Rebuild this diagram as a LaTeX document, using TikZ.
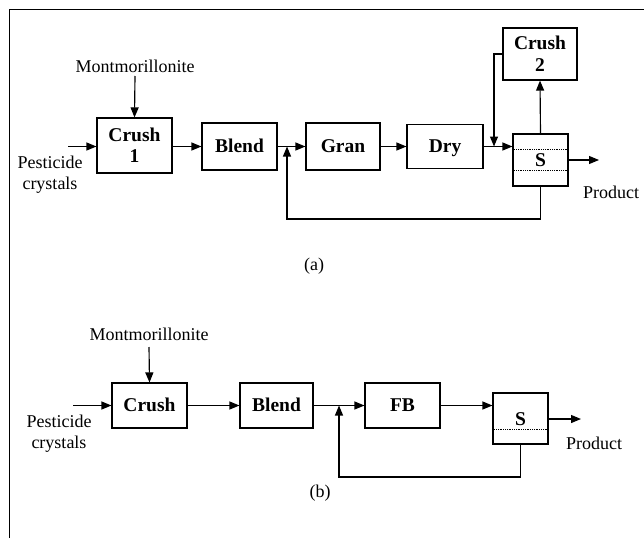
\documentclass[tikz,border=0pt]{standalone}
\usepackage{fontspec}
\setmainfont{Liberation Serif}
\usetikzlibrary{arrows.meta,calc}
\tikzset{
  unit/.style={draw, line width=1.15pt, inner sep=0pt, align=center,
    font=\bfseries\fontsize{19.5}{21}\selectfont},
  one/.style={text height=12.5pt, text depth=0pt},
  lbl/.style={inner sep=0pt, align=center, font=\fontsize{18}{21}\selectfont},
  arr/.style={line width=1.15pt, -{Triangle[length=10pt,width=8pt]}},
  ln/.style={line width=1.15pt},
  dotl/.style={line width=0.8pt, densely dotted},
}
\begin{document}
\begin{tikzpicture}[x=1pt,y=-1pt]
\useasboundingbox (0,0) rectangle (644,538);
% frame
\draw[line width=1pt] (9,538) -- (9,9) -- (644,9);

% ---------- (a) ----------
\node[unit, minimum width=75pt, minimum height=55pt] (crA) at (134.5,145.5) {Crush\\1};
\node[unit, one, minimum width=75pt, minimum height=47pt] (blA) at (239.5,146.5) {Blend};
\node[unit, one, minimum width=74pt, minimum height=47pt] (grA) at (343,146.5) {Gran};
\node[unit, one, minimum width=76pt, minimum height=44pt] (drA) at (445,146.5) {Dry};
\node[unit, one, minimum width=55pt, minimum height=52pt] (sA) at (540.5,160) {S};
\node[unit, minimum width=74pt, minimum height=52pt, font=\bfseries\fontsize{19.5}{22}\selectfont] (c2A) at (540,54) {Crush\\2};
\draw[dotl] ([yshift=-16pt]sA.north west) -- ([yshift=-16pt]sA.north east);
\draw[dotl] ([yshift=16pt]sA.south west) -- ([yshift=16pt]sA.south east);

\node[lbl] (moA) at (135,66) {Montmorillonite};
\node[lbl] (peA) at (50,175) {Pesticide\\crystals};
\node[lbl] (prA) at (611,192) {Product};
\node[lbl] (capA) at (314,266) {(a)};

\coordinate (inA) at (68,146.5);
\coordinate (jA1) at (287,146.5);
\coordinate (lpA) at (287,219);
\coordinate (jA2) at (494,146.5);
\coordinate (outA) at (599,160);

\draw[arr] (moA.south |- 0,76) -- (crA.north);
\draw[arr] (inA) -- (inA -| crA.west);
\draw[arr] (crA.east |- 0,146.5) -- (blA.west);
\draw[ln] (blA.east) -- (jA1);
\draw[arr] (jA1) -- (grA.west);
\draw[arr] (grA.east) -- (drA.west);
\draw[ln] (drA.east) -- (jA2);
\draw[arr] (jA2) -- (jA2 -| sA.west);
\draw[arr] (c2A.west) -| (jA2);
\draw[arr] (sA.north) -- (c2A.south);
\draw[arr] (sA.east) -- (outA);
\draw[arr] (sA.south) |- (lpA) -- (jA1);

% ---------- (b) ----------
\node[unit, one, minimum width=75pt, minimum height=45pt] (crB) at (149.5,405.5) {Crush};
\node[unit, one, minimum width=73pt, minimum height=45pt] (blB) at (276.5,405.5) {Blend};
\node[unit, one, minimum width=75pt, minimum height=45pt] (fbB) at (402.5,405.5) {FB};
\node[unit, minimum width=55pt, minimum height=51pt] (sB) at (520.5,418.5) {};
\node[inner sep=0pt, one, font=\bfseries\fontsize{19.5}{21}\selectfont] (sBt) at (520.5,419) {S};
\draw[dotl] ([yshift=15pt]sB.south west) -- ([yshift=15pt]sB.south east);

\node[lbl] (moB) at (149,334) {Montmorillonite};
\node[lbl] (peB) at (59,434) {Pesticide\\crystals};
\node[lbl] (prB) at (594,443) {Product};
\node[lbl] (capB) at (320,493) {(b)};

\coordinate (inB) at (73,405.5);
\coordinate (jB1) at (339,405.5);
\coordinate (lpB) at (339,477);
\coordinate (outB) at (581,419);

\draw[arr] (moB.south |- 0,347) -- (crB.north);
\draw[arr] (inB) -- (crB.west);
\draw[arr] (crB.east) -- (blB.west);
\draw[ln] (blB.east) -- (jB1);
\draw[arr] (jB1) -- (fbB.west);
\draw[arr] (fbB.east) -- (fbB.east -| sB.west);
\draw[arr] (sB.east |- outB) -- (outB);
\draw[arr] (sB.south) |- (lpB) -- (jB1);
\end{tikzpicture}
\end{document}
